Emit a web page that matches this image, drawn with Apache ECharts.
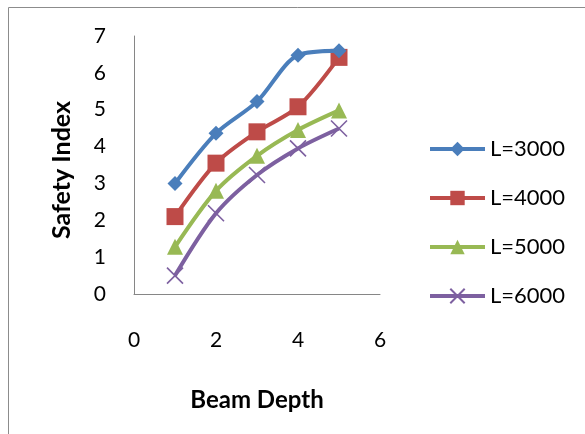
<!DOCTYPE html>
<html>
<head>
<meta charset="utf-8">
<script src="https://cdn.jsdelivr.net/npm/echarts@6/dist/echarts.min.js"></script>
<style>
html, body { margin: 0; padding: 0; background: #fff; }
#main { width: 585px; height: 434px; }
</style>
</head>
<body>
<div id="main"></div>
<script>
// 数据
var depths = [1, 2, 3, 4, 5];
var seriesNames = ['L=3000', 'L=4000', 'L=5000', 'L=6000'];
var l3000 = [3.0, 4.36, 5.22, 6.48, 6.6];
var l4000 = [2.1, 3.55, 4.4, 5.08, 6.42];
var l5000 = [1.28, 2.8, 3.75, 4.45, 4.98];
var l6000 = [0.5, 2.19, 3.23, 3.95, 4.49];
var xTicks = [0, 2, 4, 6];
var yTicks = [0, 1, 2, 3, 4, 5, 6, 7];

var colors = ['#4a7ebb', '#be4b48', '#98b954', '#7d60a0'];
var symbols = ['diamond', 'rect', 'triangle', 'path://M0,0L10,10M10,0L0,10'];
var sizes = [15, 17, 16, 16];
var values = [l3000, l4000, l5000, l6000];

function pairs(arr) {
    return arr.map(function (v, i) { return [depths[i], v]; });
}

var series = seriesNames.map(function (name, i) {
    var s = {
        name: name,
        type: 'line',
        smooth: 0.3,
        data: pairs(values[i]),
        symbol: symbols[i],
        symbolSize: sizes[i],
        showAllSymbol: true,
        lineStyle: {color: colors[i], width: 4},
        itemStyle: {color: colors[i]},
        z: 10 - i
    };
    if (i == 3) {
        s.itemStyle = {color: 'rgba(0,0,0,0)', borderColor: colors[i], borderWidth: 1.6};
    }
    return s;
});

var myChart = echarts.init(document.getElementById('main'));
var font = 'Lato, "Open Sans", sans-serif';
var option = {
    animation: false,
    textStyle: {fontFamily: font},
    grid: {left: 134, top: 36, right: 205, bottom: 140},
    xAxis: {
        type: 'value',
        min: 0, max: 6, interval: 2,
        name: 'Beam Depth',
        nameLocation: 'middle',
        nameGap: 94,
        nameTextStyle: {fontSize: 24, fontWeight: 'bold', color: '#000', fontFamily: font},
        axisLine: {lineStyle: {color: '#868686', width: 1}},
        axisTick: {show: false},
        splitLine: {show: false},
        axisLabel: {
            color: '#000', fontSize: 21, margin: 36, fontFamily: font,
            formatter: function (v) { return xTicks.indexOf(v) >= 0 ? String(v) : ''; }
        }
    },
    yAxis: {
        type: 'value',
        min: 0, max: 7, interval: 1,
        axisLine: {show: true, lineStyle: {color: '#868686', width: 1}},
        axisTick: {show: false},
        splitLine: {show: false},
        axisLabel: {
            color: '#000', fontSize: 21, margin: 28, fontFamily: font,
            formatter: function (v) { return yTicks.indexOf(v) >= 0 ? String(v) : ''; }
        }
    },
    legend: {
        orient: 'vertical',
        left: 428,
        top: 138,
        padding: 0,
        itemWidth: 55,
        itemHeight: 18,
        itemGap: 27,
        data: seriesNames,
        lineStyle: {width: 4},
        textStyle: {color: '#000', fontSize: 22, padding: [0, 0, 0, 0], fontFamily: font}
    },
    graphic: [
        {
            type: 'rect',
            shape: {x: 8.5, y: 7.5, width: 700, height: 500},
            style: {fill: 'none', stroke: '#8c8c8c', lineWidth: 1},
            silent: true
        },
        {
            type: 'text',
            x: 62, y: 170,
            rotation: Math.PI / 2,
            style: {
                text: 'Safety Index',
                fontSize: 25, fontWeight: 'bold', fill: '#000',
                fontFamily: font,
                align: 'center', verticalAlign: 'middle'
            }
        }
    ],
    series: series
};
myChart.setOption(option);
</script>
</body>
</html>
